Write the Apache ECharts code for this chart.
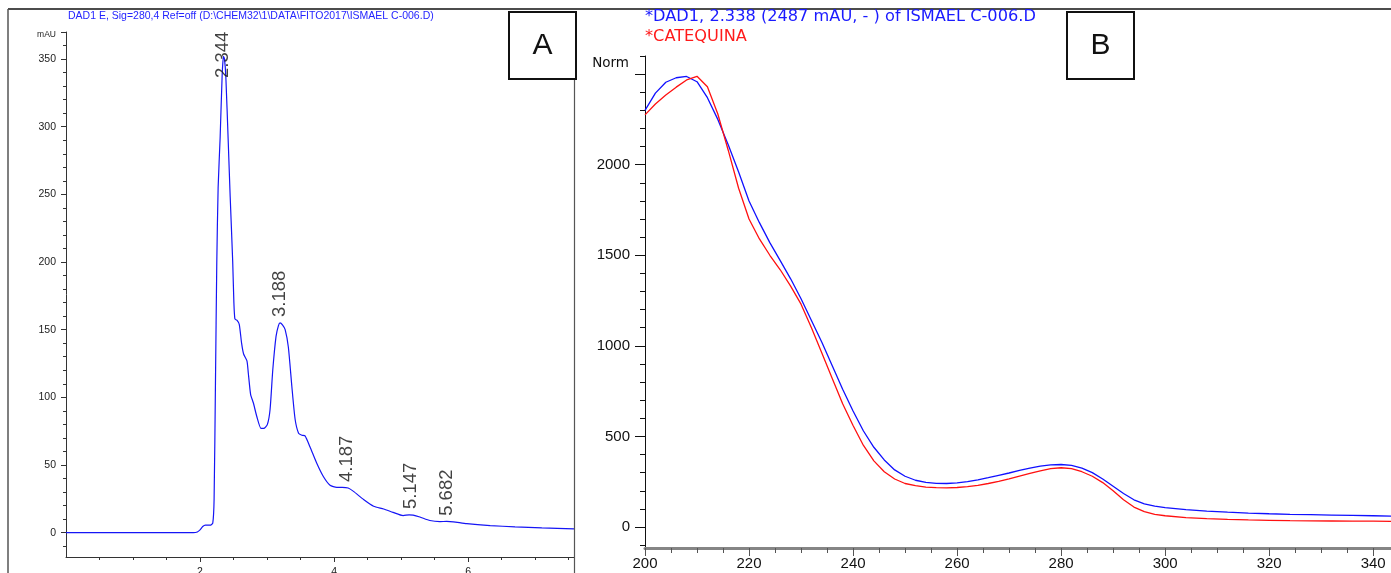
<!DOCTYPE html>
<html>
<head>
<meta charset="utf-8">
<script src="https://cdn.jsdelivr.net/npm/echarts@6/dist/echarts.min.js"></script>
<style>
html,body{margin:0;padding:0;background:#fff;}
#c{width:1391px;height:573px;}
</style>
</head>
<body>
<div id="c"></div>
<script>
// ---------- Panel A: chromatogram ----------
const chromTime = [0,1.90,1.96,2.00,2.04,2.08,2.15,2.19,2.21,2.23,2.25,2.27,2.30,2.33,2.35,2.365,2.385,2.42,2.45,2.487,2.505,2.52,2.55,2.585,2.62,2.65,2.70,2.72,2.755,2.795,2.846,2.91,2.95,3.005,3.045,3.085,3.134,3.17,3.194,3.23,3.27,3.318,3.37,3.418,3.47,3.52,3.567,3.64,3.74,3.84,3.94,4.04,4.12,4.21,4.29,4.44,4.59,4.74,4.88,5.03,5.12,5.18,5.28,5.43,5.58,5.68,5.78,5.98,6.33,6.7,7.1,7.58];
const chromAbs  = [0,0,0.5,2,4.5,5.5,5.5,7,25,110,200,255,292,338,352,350,337,290,248,201,170,158,157,154,140,132,127,118,102,96,86,77,77,80,91,120,145,153,155,153.5,150,137,108,84,73.5,72,71.5,63.5,51.5,41.5,35,33.5,33.5,33,30.5,24.5,19.5,17.5,15,12.6,13.2,13,11.6,9,8.2,8.3,8,6.6,5.2,4.3,3.5,2.8];
const peakTimes   = [2.344, 3.188, 4.187, 5.147, 5.682];
const peakHeights = [352, 155, 33, 13, 8];
const peakLabels  = ['2.344','3.188','4.187','5.147','5.682'];
const aYTickLabels = [0,50,100,150,200,250,300,350];
const aXTickLabels = [2,4,6];
const titleA = 'DAD1 E, Sig=280,4 Ref=off (D:\\CHEM32\\1\\DATA\\FITO2017\\ISMAEL C-006.D)';

// ---------- Panel B: UV spectra ----------
const wavelengths = [200,202,204,206,208,210,212,214,216,218,220,222,224,226,228,230,232,234,236,238,240,242,244,246,248,250,252,254,256,258,260,262,264,266,268,270,272,274,276,278,280,282,284,286,288,290,292,294,296,298,300,304,308,312,316,320,324,328,332,336,340,344];
const sampleSpectrum = [2300,2395,2455,2480,2487,2458,2370,2250,2110,1960,1800,1680,1570,1470,1370,1260,1140,1020,890,760,640,530,440,370,315,280,258,246,241,240,243,250,260,272,285,298,312,325,336,343,345,340,325,300,265,225,185,150,128,115,107,96,88,82,77,73,70,68,66,64,62,60];
const catequinaSpectrum = [2275,2335,2385,2428,2468,2488,2430,2280,2080,1870,1700,1590,1500,1420,1330,1230,1100,960,820,680,560,450,365,305,265,240,228,220,217,216,218,223,230,240,252,266,281,296,310,322,327,322,305,280,245,200,150,110,85,70,62,52,46,42,39,37,35,34,33,32,32,31];
const bYTickLabels = [0,500,1000,1500,2000];
const bXTickLabels = [200,220,240,260,280,300,320,340];
const titleB1 = '*DAD1, 2.338 (2487 mAU, - ) of ISMAEL C-006.D';
const titleB2 = '*CATEQUINA';

// ---------- helpers ----------
const FONT = "'Liberation Sans', Arial, sans-serif";
function range(a, b, step) { const r = []; for (let v = a; v <= b + 1e-9; v += step) r.push(Math.round(v * 1000) / 1000); return r; }
function minorOf(a, b, step, majorStep) { return range(a, b, step).filter(v => Math.abs(v / majorStep - Math.round(v / majorStep)) > 1e-6); }
const plain = v => String(v);

const aXMin = 0, aXMax = 7.58, aYMin = -18, aYMax = 370;
const bXMin = 200, bXMax = 344, bYMin = -116, bYMax = 2600;

const chromData = chromTime.map((t, i) => [t, chromAbs[i]]);
const blueData = wavelengths.map((w, i) => [w, sampleSpectrum[i]]);
const redData = wavelengths.map((w, i) => [w, catequinaSpectrum[i]]);

const labelCap = 336; // labels that would leave the plot are pulled down inside it
const peakData = peakTimes.map((t, i) => {
  const h = peakHeights[i];
  if (h > labelCap) {
    return { value: [t, labelCap], label: { position: 'top', distance: 0, align: 'left' } };
  }
  return { value: [t, h] };
});

const axisTextA = { fontFamily: FONT, fontSize: 10.5, color: '#222' };
const axisTextB = { fontFamily: FONT, fontSize: 15, color: '#111' };

const chart = echarts.init(document.getElementById('c'), null, { renderer: 'canvas' });
chart.setOption({
  animation: false,
  backgroundColor: '#fff',
  grid: [
    { left: 66, top: 32, width: 508, height: 525, containLabel: false, outerBoundsMode: 'none' },
    { left: 645, top: 56, right: -3, height: 492, containLabel: false, outerBoundsMode: 'none' }
  ],
  xAxis: [
    { gridIndex: 0, type: 'value', min: aXMin, max: aXMax, position: 'bottom',
      axisLine: { show: true, onZero: false, lineStyle: { color: '#333', width: 1 } },
      axisTick: { show: true, length: 5, customValues: aXTickLabels, lineStyle: { color: '#333' } },
      axisLabel: Object.assign({ show: true, margin: 10, customValues: aXTickLabels, formatter: plain }, axisTextA),
      splitLine: { show: false } },
    { gridIndex: 0, type: 'value', min: aXMin, max: aXMax, position: 'bottom',
      axisLine: { show: false, onZero: false },
      axisTick: { show: true, length: 3, customValues: minorOf(0.5, 7.5, 0.5, 2), lineStyle: { color: '#333' } },
      axisLabel: { show: false }, splitLine: { show: false } },
    { gridIndex: 1, type: 'value', min: bXMin, max: bXMax, position: 'bottom',
      axisLine: { show: true, onZero: false, lineStyle: { color: '#858585', width: 3 } },
      axisTick: { show: true, length: 8, customValues: bXTickLabels, lineStyle: { color: '#555' } },
      axisLabel: Object.assign({ show: true, margin: 8, customValues: bXTickLabels, formatter: plain }, axisTextB),
      splitLine: { show: false } },
    { gridIndex: 1, type: 'value', min: bXMin, max: bXMax, position: 'bottom',
      axisLine: { show: false, onZero: false },
      axisTick: { show: true, length: 5, customValues: minorOf(205, 340, 5, 20), lineStyle: { color: '#555' } },
      axisLabel: { show: false }, splitLine: { show: false } }
  ],
  yAxis: [
    { gridIndex: 0, type: 'value', min: aYMin, max: aYMax, position: 'left',
      axisLine: { show: true, onZero: false, lineStyle: { color: '#333', width: 1 } },
      axisTick: { show: true, length: 5, customValues: aYTickLabels.concat([aYMax]), lineStyle: { color: '#333' } },
      axisLabel: Object.assign({ show: true, margin: 10, customValues: aYTickLabels, formatter: plain }, axisTextA),
      splitLine: { show: false } },
    { gridIndex: 0, type: 'value', min: aYMin, max: aYMax, position: 'left',
      axisLine: { show: false, onZero: false },
      axisTick: { show: true, length: 3, customValues: minorOf(-10, 360, 10, 50), lineStyle: { color: '#333' } },
      axisLabel: { show: false }, splitLine: { show: false } },
    { gridIndex: 1, type: 'value', min: bYMin, max: bYMax, position: 'left',
      axisLine: { show: true, onZero: false, lineStyle: { color: '#111', width: 1 } },
      axisTick: { show: true, length: 10, customValues: range(0, 2500, 500), lineStyle: { color: '#111' } },
      axisLabel: Object.assign({ show: true, margin: 15, customValues: bYTickLabels, formatter: plain }, axisTextB),
      splitLine: { show: false } },
    { gridIndex: 1, type: 'value', min: bYMin, max: bYMax, position: 'left',
      axisLine: { show: false, onZero: false },
      axisTick: { show: true, length: 5, customValues: minorOf(-100, 2600, 100, 500), lineStyle: { color: '#111' } },
      axisLabel: { show: false }, splitLine: { show: false } }
  ],
  series: [
    { type: 'line', xAxisIndex: 0, yAxisIndex: 0, data: chromData, showSymbol: false, smooth: 0.2,
      lineStyle: { color: '#1515f5', width: 1.2 }, z: 3 },
    { type: 'scatter', xAxisIndex: 0, yAxisIndex: 0, data: peakData, symbolSize: 0, silent: true,
      label: { show: true, position: 'top', distance: 6, rotate: 90, align: 'left', verticalAlign: 'middle',
        fontFamily: FONT, fontSize: 18.5, color: '#111',
        formatter: p => peakLabels[p.dataIndex] }, z: 4 },
    { type: 'line', xAxisIndex: 2, yAxisIndex: 2, data: blueData, showSymbol: false,
      lineStyle: { color: '#1010ff', width: 1.3 }, z: 3 },
    { type: 'line', xAxisIndex: 2, yAxisIndex: 2, data: redData, showSymbol: false,
      lineStyle: { color: '#ff1010', width: 1.3 }, z: 3 }
  ],
  graphic: [
    { type: 'line', shape: { x1: 8, y1: 9, x2: 1391, y2: 9 }, style: { stroke: '#111', lineWidth: 1.5 }, z: 10 },
    { type: 'line', shape: { x1: 8, y1: 9, x2: 8, y2: 573 }, style: { stroke: '#555', lineWidth: 1.5 }, z: 10 },
    { type: 'line', shape: { x1: 574.5, y1: 79, x2: 574.5, y2: 573 }, style: { stroke: '#555', lineWidth: 1.2 }, z: 10 },
    { type: 'rect', shape: { x: 509, y: 12, width: 67, height: 67 }, style: { fill: '#fff', stroke: '#111', lineWidth: 2 }, z: 20 },
    { type: 'text', x: 542.5, y: 45.5, style: { text: 'A', font: "30px 'Liberation Sans', Arial, sans-serif", fill: '#111', textAlign: 'center', textVerticalAlign: 'middle' }, z: 21 },
    { type: 'rect', shape: { x: 1067, y: 12, width: 67, height: 67 }, style: { fill: '#fff', stroke: '#111', lineWidth: 2 }, z: 20 },
    { type: 'text', x: 1100.5, y: 45.5, style: { text: 'B', font: "30px 'Liberation Sans', Arial, sans-serif", fill: '#111', textAlign: 'center', textVerticalAlign: 'middle' }, z: 21 },
    { type: 'text', x: 68, y: 16, style: { text: titleA, font: "10.5px 'Liberation Sans', Arial, sans-serif", fill: '#2525ff', textVerticalAlign: 'middle' }, z: 21 },
    { type: 'text', x: 56, y: 35, style: { text: 'mAU', font: "8.5px 'Liberation Sans', Arial, sans-serif", fill: '#222', textAlign: 'right', textVerticalAlign: 'middle' }, z: 21 },
    { type: 'text', x: 645, y: 17, style: { text: titleB1, font: "16.2px 'DejaVu Sans', sans-serif", fill: '#1a1aff', textVerticalAlign: 'middle' }, z: 21 },
    { type: 'text', x: 645, y: 37, style: { text: titleB2, font: "16.2px 'DejaVu Sans', sans-serif", fill: '#ff1a1a', textVerticalAlign: 'middle' }, z: 21 },
    { type: 'text', x: 629, y: 63, style: { text: 'Norm', font: "13.5px 'DejaVu Sans', sans-serif", fill: '#111', textAlign: 'right', textVerticalAlign: 'middle' }, z: 21 }
  ]
});
</script>
</body>
</html>
